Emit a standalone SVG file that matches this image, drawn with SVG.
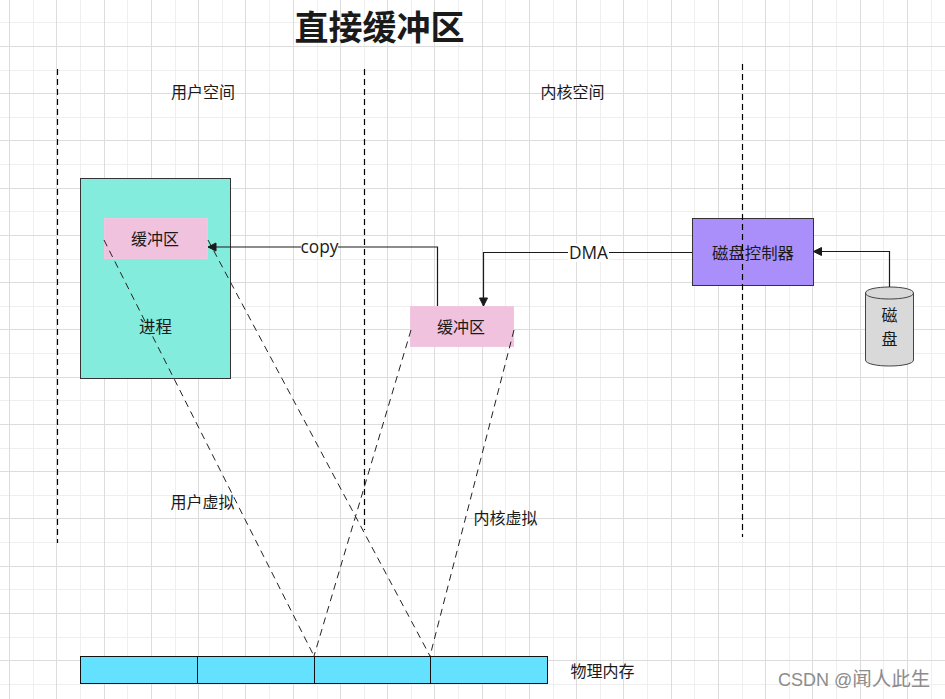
<svg xmlns="http://www.w3.org/2000/svg" width="945" height="699" viewBox="0 0 945 699">
<style>
text{font-family:"Noto Sans CJK SC","Liberation Sans",sans-serif;font-size:16px;fill:#1a1a1a;text-anchor:middle}
.major{stroke:#dcdcdc;stroke-width:1;fill:none}
.minor{stroke:#efefef;stroke-width:1;fill:none}
.box{stroke:#333;stroke-width:1}
.buf{fill:#f0c2de;stroke:#f0c6e0;stroke-width:1}
.guide{stroke:#000;stroke-width:1.2;stroke-dasharray:6 4;fill:none}
.map{stroke:#222;stroke-width:1;stroke-dasharray:7 5;fill:none}
.line{stroke:#1a1a1a;stroke-width:1.2;fill:none}
.lbl{fill:#fff;stroke:none}
.edge{font-family:"Open Sans",sans-serif;font-size:17.3px}
</style>
<defs><marker id="arr" markerUnits="userSpaceOnUse" markerWidth="10" markerHeight="10" refX="9" refY="5" orient="auto"><path d="M1 1L9 5L1 9Z" fill="#1a1a1a" stroke="#1a1a1a"/></marker></defs>
<rect width="945" height="699" fill="#fff"/>
<g id="grid">
<path class="minor" d="M33.5 0V699M80.5 0V699M127.5 0V699M175.5 0V699M222.5 0V699M269.5 0V699M317.5 0V699M364.5 0V699M411.5 0V699M458.5 0V699M505.5 0V699M553.5 0V699M600.5 0V699M647.5 0V699M694.5 0V699M742.5 0V699M789.5 0V699M836.5 0V699M883.5 0V699M931.5 0V699M0 22.5H945M0 70.5H945M0 117.5H945M0 164.5H945M0 211.5H945M0 259.5H945M0 306.5H945M0 353.5H945M0 400.5H945M0 448.5H945M0 495.5H945M0 542.5H945M0 589.5H945M0 637.5H945M0 684.5H945"/>
<path class="major" d="M9.5 0V699M56.5 0V699M104.5 0V699M151.5 0V699M198.5 0V699M245.5 0V699M293.5 0V699M340.5 0V699M387.5 0V699M434.5 0V699M482.5 0V699M529.5 0V699M576.5 0V699M623.5 0V699M671.5 0V699M718.5 0V699M765.5 0V699M812.5 0V699M860.5 0V699M907.5 0V699M0 46.5H945M0 93.5H945M0 140.5H945M0 188.5H945M0 235.5H945M0 282.5H945M0 329.5H945M0 377.5H945M0 424.5H945M0 471.5H945M0 518.5H945M0 566.5H945M0 613.5H945M0 660.5H945"/>
</g>
<g id="title"><text x="379.500" y="40" style="font-size:34px;font-weight:700">直接缓冲区</text></g>
<g id="label-user-space"><text x="203" y="98">用户空间</text></g>
<g id="label-kernel-space"><text x="572.500" y="98">内核空间</text></g>
<g id="process"><rect class="box" x="80.500" y="178.500" width="150" height="200" fill="#84ecdc"/><text x="155.500" y="333" style="font-size:16.500px">进程</text></g>
<g id="user-buffer"><rect class="buf" x="104.500" y="218.500" width="103" height="40"/><text x="155" y="245">缓冲区</text></g>
<g id="kernel-buffer"><rect class="buf" x="410.500" y="306.500" width="103" height="40"/><text x="461" y="333">缓冲区</text></g>
<g id="disk-controller"><rect class="box" x="692.500" y="218.500" width="121" height="67" fill="#aa8ffa"/></g>
<g id="guides">
<path class="guide" d="M57.500 69V543M364.500 69V530M742.500 64V537"/>
</g>
<g id="disk-controller-label"><text x="753" y="259" style="font-size:16.400px">磁盘控制器</text></g>
<g id="disk">
<path d="M865.500 293C865.500 285 913.500 285 913.500 293V360C913.500 368 865.500 368 865.500 360Z" fill="#d9d9d9" stroke="#444" stroke-width="1"/>
<path d="M865.500 293C865.500 301 913.500 301 913.500 293" fill="none" stroke="#444" stroke-width="1"/>
<text x="889.500" y="321">磁</text><text x="889.500" y="345">盘</text>
</g>
<g id="physical-memory">
<rect x="80.500" y="656.500" width="467" height="27" fill="#64e1ff" stroke="#111" stroke-width="1"/>
<path d="M197.500 656.500V683.500M314.500 656.500V683.500M430.500 656.500V683.500" stroke="#111" stroke-width="1" fill="none"/>
<text x="602.500" y="677">物理内存</text>
</g>
<g id="connectors">
<path class="map" d="M104 240L314 656M208 240L430 656M411 330L314 656M514 330L430 656"/>
<path class="line" marker-end="url(#arr)" d="M437.500 306V247H208"/>
<path class="line" marker-end="url(#arr)" d="M692 252.500H483.500V306"/>
<path class="line" marker-end="url(#arr)" d="M889.500 287V251.500H813.500"/>
<rect class="lbl" x="301" y="238" width="37" height="18"/>
<text class="edge" x="319.500" y="253">copy</text>
<rect class="lbl" x="568" y="244" width="41" height="18"/>
<text class="edge" x="588.500" y="259">DMA</text>
<text x="202.500" y="508">用户虚拟</text>
<text x="505.500" y="524">内核虚拟</text>
</g>
<g id="watermark"><text x="778" y="686" style="font-size:18px;fill:#8c8c8c;text-anchor:start;font-family:'Liberation Sans','Noto Sans CJK SC',sans-serif">CSDN @<tspan style="font-size:19.500px">闻人此生</tspan></text></g>
</svg>
